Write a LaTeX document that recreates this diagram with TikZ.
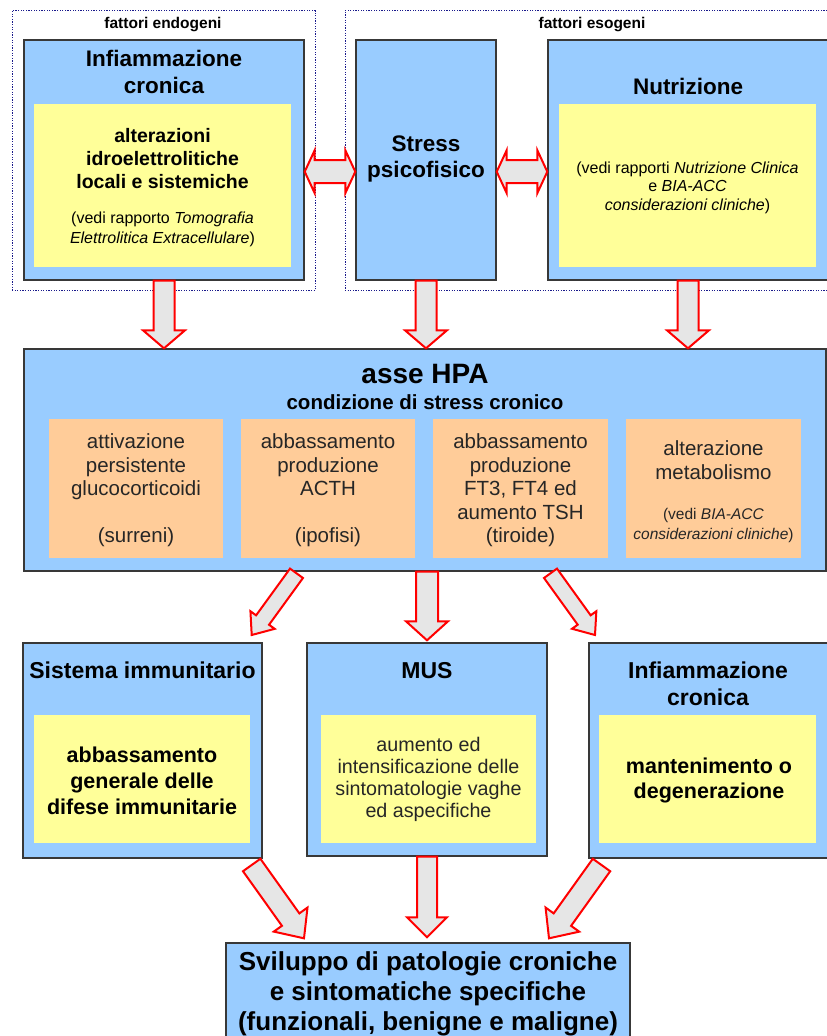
\documentclass[tikz,border=0pt]{standalone}
\usepackage{fontspec}
\setmainfont{Liberation Sans}
\usetikzlibrary{calc}
\definecolor{boxblue}{HTML}{99CCFF}
\definecolor{boxyellow}{HTML}{FFFF99}
\definecolor{boxorange}{HTML}{FFCC99}
\definecolor{arrowgray}{HTML}{E6E6E6}
\definecolor{framenavy}{HTML}{1A1A8C}
\definecolor{edgegray}{HTML}{383838}
\tikzset{
  bluebox/.style={draw=edgegray, line width=1.4pt, fill=boxblue, inner sep=0pt},
  yelbox/.style={fill=boxyellow, inner sep=0pt},
  orbox/.style={fill=boxorange, inner sep=0pt},
  framebox/.style={draw=framenavy, line width=1pt, dash pattern=on 1.2pt off 1.4pt, inner sep=0pt},
  barrow/.style={draw=red, line width=2pt, fill=arrowgray, line join=miter},
  txt/.style={align=center, inner sep=0pt},
  flabel/.style={txt, font=\fontsize{15.5}{18}\selectfont\bfseries},
  ttl/.style={txt, font=\fontsize{22.5}{27}\selectfont\bfseries},
  ybold/.style={txt, font=\fontsize{19.5}{23}\selectfont\bfseries},
  note/.style={txt, font=\fontsize{16}{19.5}\selectfont},
  orx/.style={txt, font=\fontsize{20.5}{23.5}\selectfont, text=black!85},
  ornote/.style={txt, font=\fontsize{15.5}{20}\selectfont, text=black!85},
  btitle/.style={txt, font=\fontsize{23}{27}\selectfont\bfseries},
  bbold/.style={txt, font=\fontsize{21.5}{26}\selectfont\bfseries},
  bnorm/.style={txt, font=\fontsize{19.7}{22}\selectfont, text=black!85},
  fintext/.style={txt, font=\fontsize{26}{30}\selectfont\bfseries},
}
% single block arrow: #1 tail, #2 tip, #3 shaft half width, #4 head half width, #5 head length, #6 name
\newcommand{\blockarr}[6]{%
  \coordinate (#6) at ($(#2)!#5!(#1)$);
  \draw[barrow] ($(#1)!#3!90:(#2)$) -- ($(#6)!#3!90:(#2)$) -- ($(#6)!#4!90:(#2)$)
    -- (#2) -- ($(#6)!#4!-90:(#2)$) -- ($(#6)!#3!-90:(#2)$) -- ($(#1)!#3!-90:(#2)$) -- cycle;}
% double block arrow between #1 and #2, names #3
\newcommand{\dblarr}[3]{%
  \coordinate (#3a) at ($(#1)!10pt!(#2)$);
  \coordinate (#3b) at ($(#2)!10pt!(#1)$);
  \draw[barrow] (#1) -- ($(#3a)!21.5pt!90:(#2)$) -- ($(#3a)!11.5pt!90:(#2)$)
    -- ($(#3b)!11.5pt!-90:(#1)$) -- ($(#3b)!21.5pt!-90:(#1)$) -- (#2)
    -- ($(#3b)!21.5pt!90:(#1)$) -- ($(#3b)!11.5pt!90:(#1)$)
    -- ($(#3a)!11.5pt!-90:(#2)$) -- ($(#3a)!21.5pt!-90:(#2)$) -- cycle;}
\begin{document}
\begin{tikzpicture}[x=1pt,y=-1pt]
\clip (0,0) rectangle (827,1036);
\fill[white] (0,0) rectangle (827,1036);

% dotted frames
\node[framebox, minimum width=303pt, minimum height=280pt] (endo) at (163.5,150.5) {};
\node[framebox, minimum width=495pt, minimum height=280pt] (eso) at (592.5,150.5) {};
\node[flabel] (lendo) at (163,25) {fattori endogeni};
\node[flabel] (leso) at (592,25) {fattori esogeni};

% top row
\node[bluebox, minimum width=280pt, minimum height=240pt] (inf1) at (164,160) {};
\node[ttl] (inf1t) at (164,72) {Infiammazione\\cronica};
\node[yelbox, minimum width=257pt, minimum height=163pt] (inf1y) at (162.5,185.5) {};
\node[ybold] (inf1x) at (162.5,159) {alterazioni\\idroelettrolitiche\\locali e sistemiche};
\node[note] (inf1n) at (162.5,229.5) {(vedi rapporto \textit{Tomografia}\\\textit{Elettrolitica Extracellulare})};

\node[bluebox, minimum width=140pt, minimum height=240pt] (stress) at (426,160) {};
\node[ttl, font=\fontsize{22.5}{26}\selectfont\bfseries] (stresst) at (426,158.5) {Stress\\psicofisico};

\node[bluebox, minimum width=280pt, minimum height=240pt] (nutr) at (688,160) {};
\node[ttl] (nutrt) at (688,86) {Nutrizione};
\node[yelbox, minimum width=257pt, minimum height=163pt] (nutry) at (687.5,185.5) {};
\node[note, font=\fontsize{16}{18.5}\selectfont] (nutrn) at (687.5,187.5) {(vedi rapporti \textit{Nutrizione Clinica}\\e \textit{BIA-ACC}\\\textit{considerazioni cliniche})};

% HPA
\node[bluebox, minimum width=802pt, minimum height=222pt] (hpa) at (425,460) {};
\node[txt, font=\fontsize{28}{32}\selectfont\bfseries] (hpat) at (425,374) {asse HPA};
\node[txt, font=\fontsize{20.5}{24}\selectfont\bfseries] (hpas) at (425,402) {condizione di stress cronico};
\node[orbox, minimum width=174pt, minimum height=139pt] (o1) at (136,488.5) {};
\node[orbox, minimum width=174pt, minimum height=139pt] (o2) at (328,488.5) {};
\node[orbox, minimum width=175pt, minimum height=139pt] (o3) at (520.5,488.5) {};
\node[orbox, minimum width=175pt, minimum height=139pt] (o4) at (713.5,488.5) {};
\node[orx] (o1t) at (136,490.5) {attivazione\\persistente\\glucocorticoidi\\[23.5pt](surreni)};
\node[orx] (o2t) at (328,490.5) {abbassamento\\produzione\\ACTH\\[23.5pt](ipofisi)};
\node[orx] (o3t) at (520.5,490.5) {abbassamento\\produzione\\FT3, FT4 ed\\aumento TSH\\(tiroide)};
\node[orx] (o4t) at (713.5,460) {alterazione\\metabolismo};
\node[ornote] (o4n) at (713.5,525.5) {(vedi \textit{BIA-ACC}\\\textit{considerazioni cliniche})};

% bottom row
\node[bluebox, minimum width=239pt, minimum height=215pt] (sis) at (142.5,750.5) {};
\node[btitle] (sist) at (142.5,670.5) {Sistema immunitario};
\node[yelbox, minimum width=216pt, minimum height=128pt] (sisy) at (142,779) {};
\node[bbold] (sisx) at (142,781) {abbassamento\\generale delle\\difese immunitarie};

\node[bluebox, minimum width=240pt, minimum height=213pt] (mus) at (427,749.5) {};
\node[btitle] (must) at (427,670.5) {MUS};
\node[yelbox, minimum width=215pt, minimum height=128pt] (musy) at (428.5,779) {};
\node[bnorm] (musx) at (428.5,779.5) {aumento ed\\intensificazione delle\\sintomatologie vaghe\\ed aspecifiche};

\node[bluebox, minimum width=240pt, minimum height=215pt] (inf2) at (709,750.5) {};
\node[btitle] (inf2t) at (708,684) {Infiammazione\\cronica};
\node[yelbox, minimum width=217pt, minimum height=128pt] (inf2y) at (707.5,779) {};
\node[bbold, font=\fontsize{21.5}{25}\selectfont\bfseries] (inf2x) at (709,780) {mantenimento o\\degenerazione};

\node[bluebox, minimum width=404pt, minimum height=110pt] (fin) at (428,998) {};
\node[fintext] (fint) at (428,994) {Sviluppo di patologie croniche\\e sintomatiche specifiche\\(funzionali, benigne e maligne)};

% arrows top row
\dblarr{$(inf1.east)+(0,11.7)$}{$(stress.west)+(0,11.7)$}{da}
\dblarr{$(stress.east)+(0,11.7)$}{$(nutr.west)+(0,11.7)$}{db}
\blockarr{inf1.south}{inf1.south |- hpa.north}{10.5pt}{21pt}{18pt}{h1}
\blockarr{stress.south}{stress.south |- hpa.north}{10.5pt}{21pt}{18pt}{h2}
\blockarr{nutr.south}{nutr.south |- hpa.north}{10.5pt}{21pt}{18pt}{h3}

% arrows from HPA
\coordinate (t1) at (296.5,573.3);
\coordinate (t1e) at (251.7,635);
\coordinate (t3) at (550.5,573.3);
\coordinate (t3e) at (595,635);
\blockarr{t1}{t1e}{8pt}{15pt}{18.5pt}{h4}
\blockarr{mus.north |- hpa.south}{$(mus.north)+(0,-2)$}{11pt}{21pt}{19pt}{h5}
\blockarr{t3}{t3e}{8pt}{15pt}{18.5pt}{h6}

% arrows to final
\coordinate (b1) at (251.7,865);
\coordinate (b1e) at (304,938.3);
\coordinate (b3) at (601.5,865);
\coordinate (b3e) at (549,938.3);
\blockarr{b1}{b1e}{10.7pt}{20.7pt}{23pt}{h7}
\blockarr{mus.south}{$(mus.south |- fin.north)+(0,-5)$}{10pt}{20pt}{20pt}{h8}
\blockarr{b3}{b3e}{10.7pt}{20.7pt}{23pt}{h9}
\end{tikzpicture}
\end{document}
